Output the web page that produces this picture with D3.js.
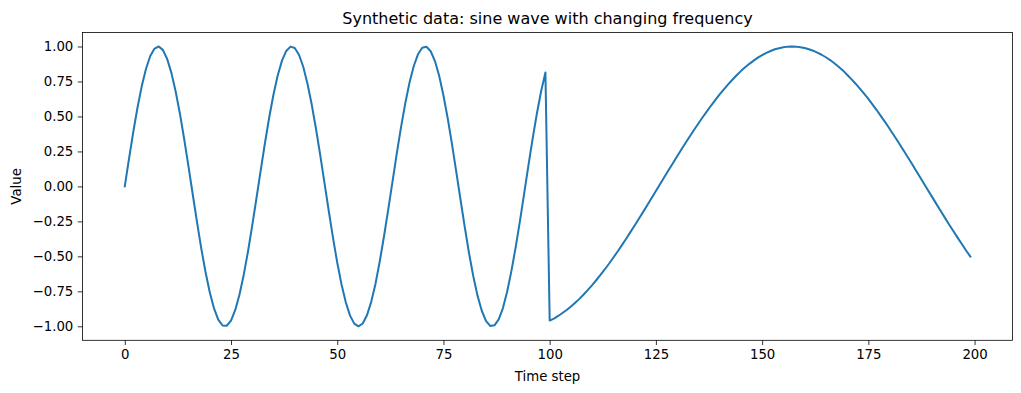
<!DOCTYPE html>
<html>
<head>
<meta charset="utf-8">
<style>
  body { margin: 0; background: #fff; }
  text { font-family: "DejaVu Sans", sans-serif; fill: #000; }
</style>
</head>
<body>
<script src="https://d3js.org/d3.v7.min.js"></script>
<script>
// time steps 0..199 and the values
var steps = d3.range(0, 200);
var values = [
  0.000, 0.199, 0.389, 0.565, 0.717, 0.841, 0.932, 0.985, 1.000, 0.974,
  0.909, 0.808, 0.675, 0.516, 0.335, 0.141, -0.058, -0.256, -0.443, -0.612,
  -0.757, -0.872, -0.952, -0.994, -0.996, -0.959, -0.883, -0.773, -0.631, -0.465,
  -0.279, -0.083, 0.117, 0.312, 0.494, 0.657, 0.794, 0.899, 0.968, 0.999,
  0.989, 0.941, 0.855, 0.734, 0.585, 0.412, 0.223, 0.025, -0.174, -0.366,
  -0.544, -0.699, -0.827, -0.922, -0.981, -1.000, -0.980, -0.921, -0.825, -0.697,
  -0.537, -0.358, -0.166, 0.033, 0.232, 0.420, 0.592, 0.740, 0.859, 0.944,
  0.991, 0.998, 0.966, 0.896, 0.789, 0.650, 0.487, 0.304, 0.108, -0.092,
  -0.288, -0.474, -0.639, -0.779, -0.887, -0.961, -0.997, -0.993, -0.951, -0.870,
  -0.751, -0.604, -0.434, -0.248, -0.050, 0.150, 0.343, 0.523, 0.682, 0.814,
  -0.959, -0.945, -0.926, -0.905, -0.883, -0.859, -0.832, -0.804, -0.773, -0.740,
  -0.706, -0.669, -0.631, -0.592, -0.551, -0.508, -0.465, -0.420, -0.374, -0.327,
  -0.279, -0.231, -0.182, -0.133, -0.083, -0.033, 0.017, 0.067, 0.117, 0.166,
  0.215, 0.264, 0.312, 0.359, 0.405, 0.450, 0.494, 0.536, 0.578, 0.618,
  0.657, 0.694, 0.729, 0.762, 0.794, 0.824, 0.851, 0.876, 0.899, 0.920,
  0.938, 0.954, 0.968, 0.980, 0.988, 0.995, 0.999, 1.000, 0.999, 0.995,
  0.989, 0.980, 0.970, 0.956, 0.941, 0.923, 0.903, 0.880, 0.855, 0.829,
  0.798, 0.767, 0.734, 0.699, 0.663, 0.625, 0.585, 0.544, 0.501, 0.458,
  0.412, 0.366, 0.319, 0.271, 0.223, 0.174, 0.124, 0.075, 0.025, -0.025,
  -0.075, -0.125, -0.174, -0.223, -0.272, -0.319, -0.366, -0.412, -0.458, -0.501
];
var xTicks = [0, 25, 50, 75, 100, 125, 150, 175, 200];
var yTicks = [-1.00, -0.75, -0.50, -0.25, 0.00, 0.25, 0.50, 0.75, 1.00];

var w = 1021, h = 393;
var mL = 82.5, mR = 1012.6, mT = 32.5, mB = 340.3;

var svg = d3.select('body').append('svg')
  .attr('width', w)
  .attr('height', h);

var x = d3.scaleLinear().domain([-9.95, 208.95]).range([mL, mR]);
var y = d3.scaleLinear().domain([-1.1, 1.1]).range([mB, mT]);

var data = steps.map((s, i) => [s, values[i]]);

var line = d3.line()
  .x(d => x(d[0]))
  .y(d => y(d[1]));

svg.append('path')
  .datum(data)
  .attr('d', line)
  .attr('fill', 'none')
  .attr('stroke', '#1f77b4')
  .attr('stroke-width', 2)
  .attr('stroke-linejoin', 'round')
  .attr('stroke-linecap', 'square');

var xAxis = svg.append('g')
  .attr('transform', 'translate(0,' + mB + ')')
  .call(d3.axisBottom(x).tickValues(xTicks).tickSize(4.7).tickPadding(4.5).tickFormat(d3.format('d')));

var yAxis = svg.append('g')
  .attr('transform', 'translate(' + mL + ',0)')
  .call(d3.axisLeft(y).tickValues(yTicks).tickSize(4.7).tickPadding(4.5)
    .tickFormat(d => d3.format('.2f')(d).replace('-', '\u2212')));

[xAxis, yAxis].forEach(function(g) {
  g.select('.domain').remove();
  g.selectAll('line').attr('stroke', '#000').attr('stroke-width', 0.8);
  g.selectAll('text').style('font-size', '13.3px').style('font-family', '"DejaVu Sans", sans-serif');
});

// frame
svg.append('rect')
  .attr('x', mL).attr('y', mT)
  .attr('width', mR - mL).attr('height', mB - mT)
  .attr('fill', 'none')
  .attr('stroke', '#000')
  .attr('stroke-width', 0.8);

svg.append('text')
  .attr('x', (mL + mR) / 2)
  .attr('y', 24)
  .attr('text-anchor', 'middle')
  .style('font-size', '16px')
  .text('Synthetic data: sine wave with changing frequency');

svg.append('text')
  .attr('x', (mL + mR) / 2)
  .attr('y', 381)
  .attr('text-anchor', 'middle')
  .style('font-size', '13.3px')
  .text('Time step');

svg.append('text')
  .attr('transform', 'translate(21,' + ((mT + mB) / 2) + ') rotate(-90)')
  .attr('text-anchor', 'middle')
  .style('font-size', '13.3px')
  .text('Value');
</script>
</body>
</html>
